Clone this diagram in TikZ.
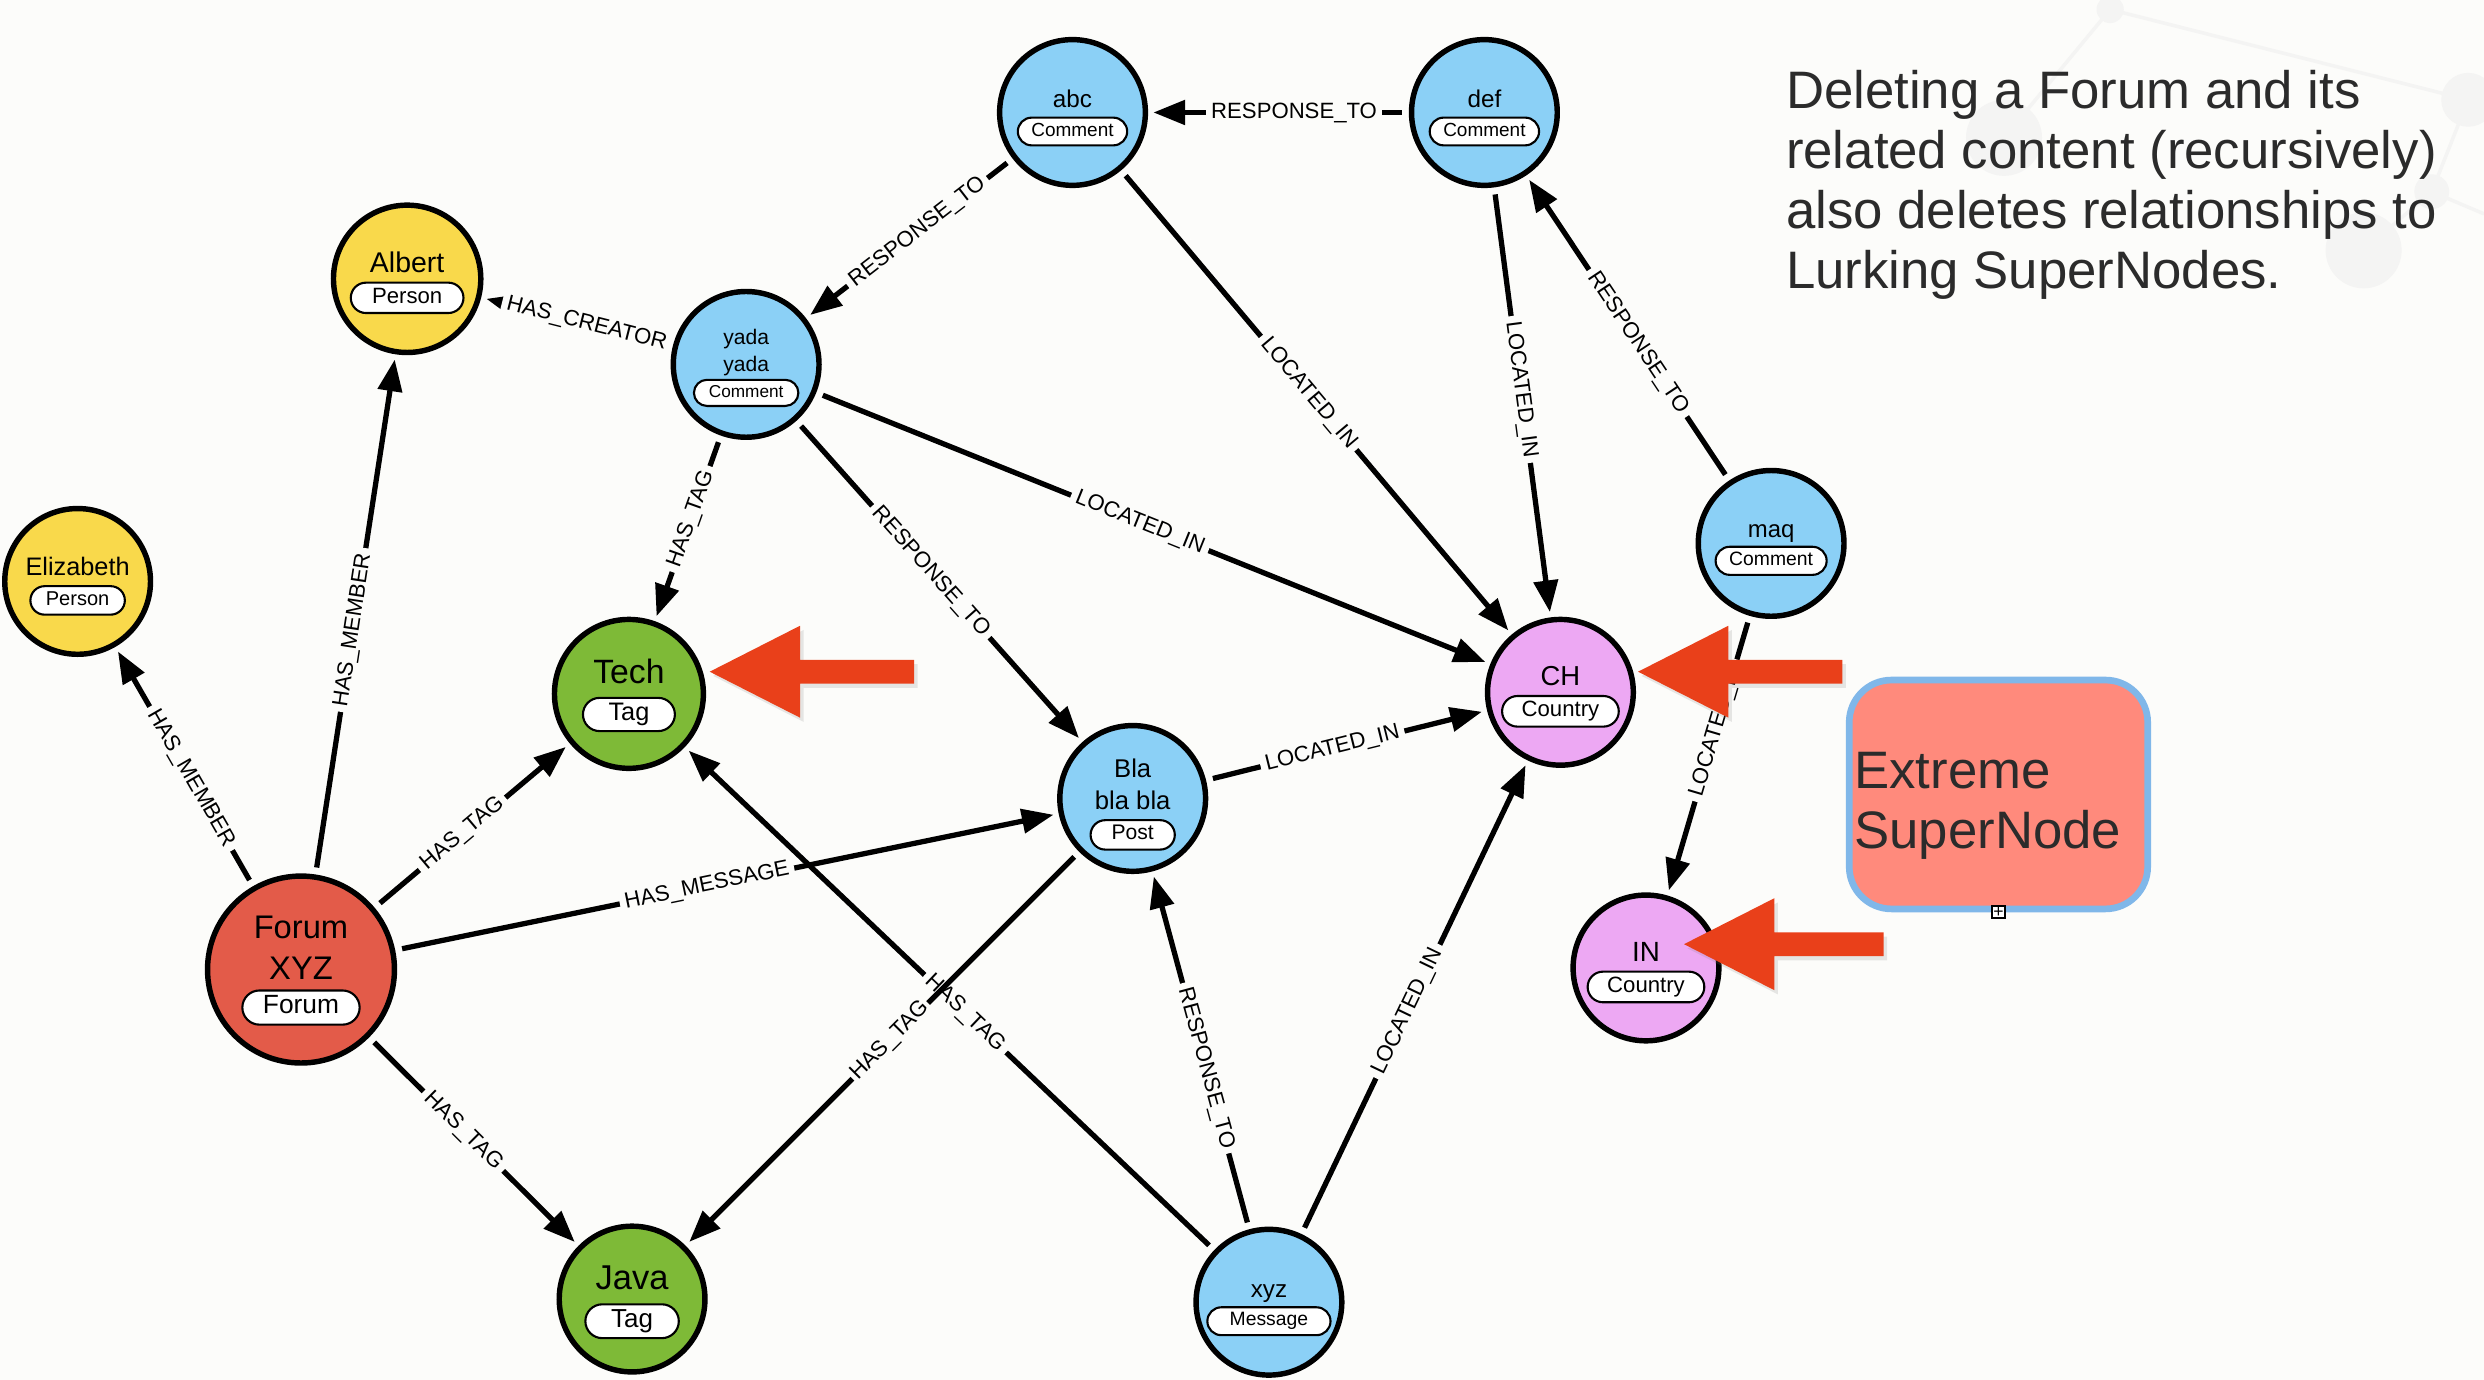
\documentclass[tikz,border=0pt]{standalone}
\usepackage{fontspec}
\setmainfont{Liberation Sans}
\usetikzlibrary{arrows.meta,shapes.misc,shadows}

\definecolor{bg}{HTML}{FCFCFA}
\definecolor{cmt}{HTML}{8BD0F6}
\definecolor{per}{HTML}{F9D94B}
\definecolor{tag}{HTML}{7EBA37}
\definecolor{frm}{HTML}{E35B49}
\definecolor{ctry}{HTML}{EDA8F3}
\definecolor{hot}{HTML}{E9401A}
\definecolor{xfill}{HTML}{FF8A7C}
\definecolor{xline}{HTML}{80B7E9}
\definecolor{ink}{HTML}{2B2B2B}
\definecolor{decor}{HTML}{F4F4F3}

\tikzset{
  ent/.style={circle, draw=black, line width=1.55pt, inner sep=0pt},
  pill/.style={rounded rectangle, draw=black, fill=white, line width=.6pt, inner ysep=.15em},
  nm/.style={anchor=south, inner sep=0pt, text depth=0pt, align=center},
  rel/.style={-{Triangle[length=9pt,width=6.8pt]}, line width=1.5pt, shorten <=2pt, shorten >=1.5pt},
  lab/.style={sloped, fill=bg, inner sep=1.5pt, font=\fontsize{6.3}{7}\selectfont},
  hotarrow/.style={fill=hot, drop shadow={opacity=.18, shadow xshift=1pt, shadow yshift=-1.2pt}},
  xbox/.style={draw=xline, fill=xfill, line width=1.9pt, rounded corners=12pt,
    minimum width=84.9pt, minimum height=65.1pt},
  xtext/.style={inner sep=0pt, align=left, text=ink, font=\fontsize{15}{17.2}\selectfont},
}

% red pointer: tip x, tip y, tail x
\newcommand{\hotptr}[3]{%
  \fill[hotarrow] (#1,#2) -- ++(57,-29) -- ++(0,21.5) -- (#3,#2-7.5) -- (#3,#2+7.5)
    -- (#1+57,#2+7.5) -- ++(0,21.5) -- cycle;}

\begin{document}
\begin{tikzpicture}[x=0.015842cm, y=-0.015842cm]
  \fill[bg] (0,0) rectangle (1568,871);
  \useasboundingbox (0,0) rectangle (1568,871);
  % faint background network
  \begin{scope}[draw=decor, fill=decor, line width=1pt]
    \draw (1332,6) -- (1558,63) (1332,6) -- (1265,87) (1558,63) -- (1535,121)
          (1535,121) -- (1492,158) (1535,121) -- (1568,135);
    \fill (1332,6) circle (8.6) (1558,63) circle (17) (1265,87) circle (24)
          (1492,158) circle (24) (1535,121) circle (11);
  \end{scope}
  % note
  \node[anchor=north west, inner sep=0pt, align=left, text=ink, font=\fontsize{15}{17.1}\selectfont]
    (note) at (1127,44) {Deleting a Forum and its\\related content (recursively)\\also deletes relationships to\\Lurking SuperNodes.};
  % entities
  \foreach \id/\x/\y/\dm/\col/\nm/\nf/\pl/\pf/\xs/\dy/\gp in {
      abc/677/71/92/cmt/abc/6.9/Comment/5.4/.3/12/2.4,
      def/937/71/92/cmt/def/6.9/Comment/5.4/.3/12/2.4,
      albert/257/176/93/per/Albert/8.1/Person/6.3/.5/12/2.4,
      eliz/49/367/92/per/Elizabeth/7.2/Person/5.7/.35/12/2.4,
      yada/471/230/92/cmt/{yada\\yada}/6.0/Comment/4.9/.35/18/2.0,
      maq/1118/343/92/cmt/maq/6.8/Comment/5.5/.3/11/2.2,
      ch/985/437/92/ctry/CH/7.8/Country/6.3/.45/12/2.4,
      ind/1039/611/92/ctry/IN/7.9/Country/6.3/.45/12/2.4,
      forum/190/612/118/frm/{Forum\\XYZ}/9.3/Forum/7.5/.45/24/2.6,
      java/399/820/92/tag/Java/9.8/Tag/7.4/.6/14/3.6,
      tech/397/438/94/tag/Tech/9.6/Tag/7.2/.6/13/3.6,
      bla/715/504/92/cmt/{Bla\\bla bla}/7.3/Post/6.0/.5/23/2.4,
      xyz/801/822/92/cmt/xyz/6.9/Message/5.5/.55/12/2.4}{
    \pgfmathsetmacro\nb{1.25*\nf}
    \node[ent, fill=\col, minimum size=\dm*0.015842cm] (\id) at (\x,\y) {};
    \node[pill, inner xsep=\xs em, font=\fontsize{\pf}{\pf}\selectfont] (\id-p) at (\x,\y+\dy) {\vphantom{Tg}\pl};
    \node[nm, yshift=\gp pt, font=\fontsize{\nf}{\nb}\selectfont] at (\id-p.north) {\nm};
  }
  % relationships
  \draw[rel] (def) -- node[lab,pos=.44]{RESPONSE\_TO} (abc);
  \draw[rel] (abc) -- node[lab,pos=.46]{RESPONSE\_TO} (yada);
  \draw[rel] (yada) -- node[lab,pos=.45]{HAS\_CREATOR} (albert);
  \draw[rel] (yada) -- node[lab,pos=.45]{HAS\_TAG} (tech);
  \draw[rel] (yada) -- node[lab,pos=.48]{LOCATED\_IN} (ch);
  \draw[rel] (yada) -- node[lab,pos=.47]{RESPONSE\_TO} (bla);
  \draw[rel] (abc) -- node[lab,pos=.48]{LOCATED\_IN} (ch);
  \draw[rel] (def) -- node[lab,pos=.47]{LOCATED\_IN} (ch);
  \draw[rel] (maq) -- node[lab,pos=.45]{RESPONSE\_TO} (def);
  \draw[rel] (maq) -- node[lab,pos=.41]{LOCATED\_IN} (ind);
  \draw[rel] (forum) -- node[lab,pos=.45]{HAS\_MEMBER} (eliz);
  \draw[rel] (forum) -- node[lab,pos=.47]{HAS\_MEMBER} (albert);
  \draw[rel] (forum) -- node[lab,pos=.45]{HAS\_TAG} (tech);
  \draw[rel] (forum) -- node[lab,pos=.47]{HAS\_MESSAGE} (bla);
  \draw[rel] (forum) -- node[lab,pos=.45]{HAS\_TAG} (java);
  \draw[rel] (bla) -- node[lab,pos=.45]{LOCATED\_IN} (ch);
  \draw[rel] (xyz) -- node[lab,pos=.47]{HAS\_TAG} (tech);
  \draw[rel] (bla) -- node[lab,pos=.48,inner sep=.7pt]{HAS\_TAG} (java);
  \draw[rel] (xyz) -- node[lab,pos=.45]{RESPONSE\_TO} (bla);
  \draw[rel] (xyz) -- node[lab,pos=.47]{LOCATED\_IN} (ch);
  % supernode box
  \node[xbox] (xsn) at (1261.5,501.5) {};
  \node[xtext, anchor=west] (xsnt) at ([xshift=2.2pt,yshift=-3.3pt]xsn.west) {Extreme\\SuperNode};
  \node[draw, fill=white, line width=.5pt, inner sep=.3pt, font=\fontsize{5}{5}\selectfont] (plus) at (xsn.south) {+};
  % pointers
  \hotptr{448}{424}{577}
  \hotptr{1034}{424}{1163}
  \hotptr{1063}{596}{1189}
\end{tikzpicture}
\end{document}
